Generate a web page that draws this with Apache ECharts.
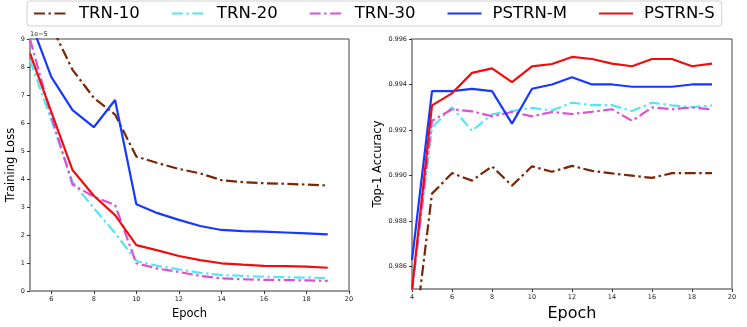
<!DOCTYPE html>
<html><head><meta charset="utf-8">
<script src="https://cdn.jsdelivr.net/npm/echarts@6/dist/echarts.min.js"></script>
<style>html,body{margin:0;padding:0;background:#fff}#c{width:747px;height:327px}</style>
</head><body><div id="c"></div>
<script>
const seriesNames = ['TRN-10','TRN-20','TRN-30','PSTRN-M','PSTRN-S'];
const lossEpochs = [5,6,7,8,9,10,11,12,13,14,15,16,17,18,19];
const lossTRN10 = [10.5,9.47,7.9,6.9,6.3,4.8,4.57,4.36,4.2,3.96,3.89,3.85,3.83,3.8,3.77];
const lossTRN20 = [8.25,6.1,3.9,2.96,2.07,1.07,0.9,0.77,0.65,0.57,0.54,0.51,0.49,0.48,0.46];
const lossTRN30 = [9.0,6.25,3.8,3.37,3.07,0.99,0.8,0.68,0.54,0.45,0.42,0.4,0.39,0.38,0.36];
const lossPSTRNM = [9.67,7.65,6.46,5.85,6.82,3.1,2.78,2.54,2.32,2.18,2.14,2.12,2.09,2.06,2.02];
const lossPSTRNS = [8.49,6.4,4.32,3.4,2.71,1.64,1.45,1.25,1.1,0.99,0.94,0.9,0.89,0.87,0.83];
const accEpochs = [4,5,6,7,8,9,10,11,12,13,14,15,16,17,18,19];
const accTRN10 = [0.982,0.9892,0.9901,0.98977,0.9904,0.98955,0.9904,0.99016,0.99042,0.9902,0.99009,0.98999,0.98989,0.9901,0.9901,0.9901];
const accTRN20 = [0.985,0.9921,0.9930,0.99196,0.99269,0.99283,0.99297,0.99286,0.9932,0.99309,0.99309,0.99283,0.9932,0.99308,0.993,0.99308];
const accTRN30 = [0.9849,0.9924,0.99291,0.99282,0.9926,0.99279,0.9926,0.99279,0.9927,0.9928,0.99291,0.9924,0.99299,0.99291,0.99299,0.9929];
const accPSTRNM = [0.98627,0.99371,0.99371,0.99381,0.99371,0.99228,0.99381,0.994,0.99432,0.994,0.994,0.9939,0.9939,0.9939,0.994,0.994];
const accPSTRNS = [0.985,0.99308,0.99361,0.99451,0.99471,0.9941,0.9948,0.9949,0.99521,0.99512,0.99492,0.9948,0.99512,0.99512,0.9948,0.99492];
const lossXTicks = [6,8,10,12,14,16,18,20];
const accYTicks = [0.986,0.988,0.990,0.992,0.994,0.996];

const colors = ['#7a2605','#55e6f6','#de4fd6','#1638ff','#f20d0d'];
const dashDot = [11,3.5,2.5,3.5];
const styles = ['dd','dd','dd','solid','solid'];
const font = 'DejaVu Sans';

function mk(name, idx, xs, ys, gi) {
  return {
    name: name, type: 'line', xAxisIndex: gi, yAxisIndex: gi,
    data: xs.map((x,i)=>[x, ys[i]]), symbol: 'none', clip: true, animation: false,
    lineStyle: {color: colors[idx], width: 2.2, type: styles[idx]==='dd' ? dashDot : 'solid'},
    itemStyle: {color: colors[idx]}
  };
}
const lossData = [lossTRN10, lossTRN20, lossTRN30, lossPSTRNM, lossPSTRNS];
const accData = [accTRN10, accTRN20, accTRN30, accPSTRNM, accPSTRNS];
const series = [];
seriesNames.forEach((n,i)=>series.push(mk(n,i,lossEpochs,lossData[i],0)));
seriesNames.forEach((n,i)=>series.push(mk(n,i,accEpochs,accData[i],1)));

const axisLine = {show: true, onZero: false, lineStyle: {color: '#999', width: 2}};
const tick = {show: true, length: 3, lineStyle: {color: '#333', width: 1}};
const lbl = {color: '#222', fontSize: 6.5, fontFamily: font, margin: 5};

const chart = echarts.init(document.getElementById('c'), null, {renderer: 'canvas'});
chart.setOption({
  animation: false,
  backgroundColor: '#fff',
  legend: {
    data: seriesNames, left: 27, top: 1, orient: 'horizontal',
    padding: [4, 7, 4, 6], itemGap: 31, itemWidth: 34, itemHeight: 14,
    borderColor: '#d0d0d0', borderWidth: 1, borderRadius: 3,
    itemStyle: {opacity: 0},
    textStyle: {fontSize: 16.5, fontFamily: font, color: '#000', padding: [0,0,0,6]}
  },
  grid: [
    {left: 30, top: 39, width: 319, height: 252, show: true, borderColor: '#444', borderWidth: 1},
    {left: 412, top: 39, width: 320, height: 251, show: true, borderColor: '#444', borderWidth: 1}
  ],
  xAxis: [
    {type: 'value', gridIndex: 0, min: 5, max: 20, splitLine: {show: false}, axisLine: axisLine,
     axisTick: Object.assign({}, tick, {customValues: lossXTicks}),
     axisLabel: Object.assign({}, lbl, {customValues: lossXTicks}),
     name: 'Epoch', nameLocation: 'middle', nameGap: 12, nameTextStyle: {fontSize: 11.5, fontFamily: font, color: '#000'}},
    {type: 'value', gridIndex: 1, min: 4, max: 20, interval: 2, splitLine: {show: false}, axisLine: axisLine,
     axisTick: tick, axisLabel: lbl,
     name: 'Epoch', nameLocation: 'middle', nameGap: 11, nameTextStyle: {fontSize: 16, fontFamily: font, color: '#000'}}
  ],
  yAxis: [
    {type: 'value', gridIndex: 0, min: 0, max: 9, interval: 1, splitLine: {show: false}, axisLine: axisLine,
     axisTick: tick, axisLabel: lbl,
     name: 'Training Loss', nameLocation: 'middle', nameGap: 9, nameTextStyle: {fontSize: 11.5, fontFamily: font, color: '#000'}},
    {type: 'value', gridIndex: 1, min: 0.985, max: 0.996, splitLine: {show: false}, axisLine: axisLine,
     axisTick: Object.assign({}, tick, {customValues: accYTicks}),
     axisLabel: Object.assign({}, lbl, {customValues: accYTicks, formatter: v => v.toFixed(3)}),
     name: 'Top-1 Accuracy', nameLocation: 'middle', nameGap: 25, nameTextStyle: {fontSize: 11.5, fontFamily: font, color: '#000'}}
  ],
  graphic: [
    {type: 'text', left: 30, top: 31, style: {text: '1e\u22125', fontSize: 6.5, fontFamily: font, fill: '#222'}}
  ],
  series: series
});
</script></body></html>
